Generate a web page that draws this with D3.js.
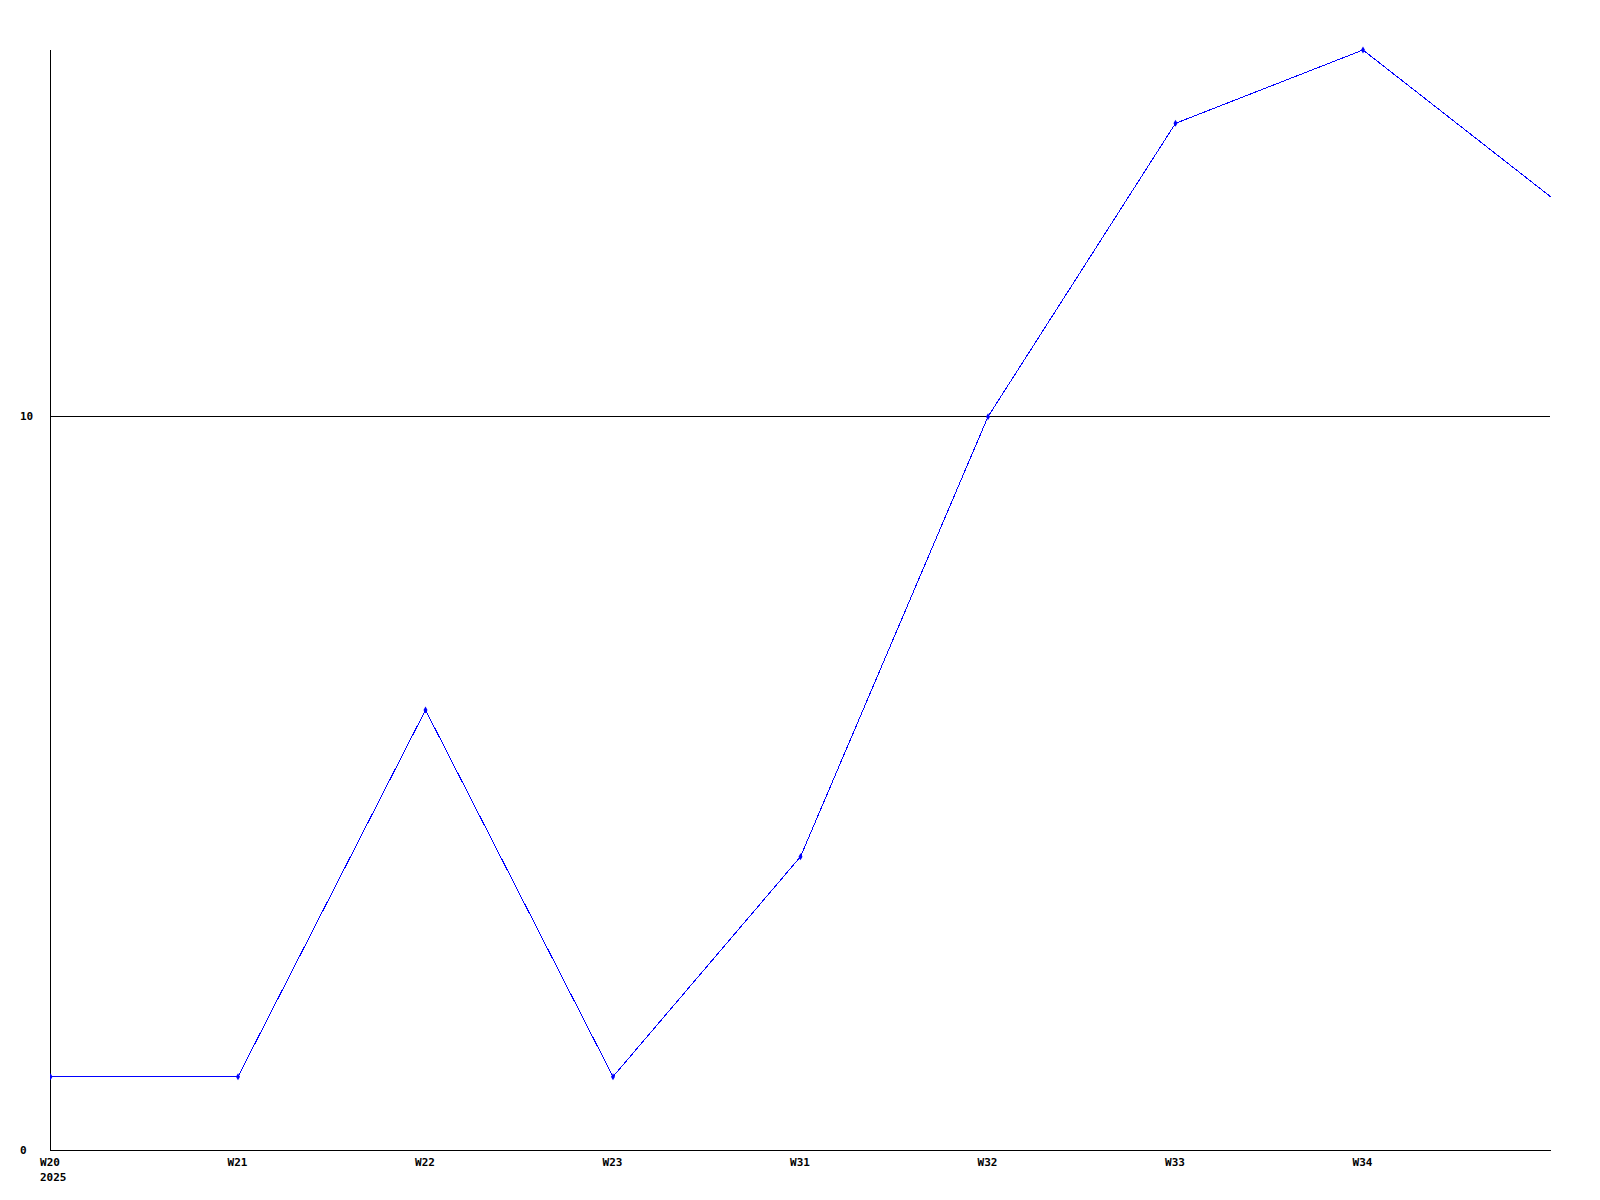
<!DOCTYPE html>
<html>
<head>
<meta charset="utf-8">
<script src="https://cdn.jsdelivr.net/npm/d3@7"></script>
<style>
  html, body { margin: 0; padding: 0; background: #fff; }
  svg { display: block; }
  text { font-family: "DejaVu Sans Mono", "Liberation Mono", monospace; font-weight: bold; font-size: 11px; fill: #000; }
</style>
</head>
<body>
<script>
// Data
const weeks = ["W20", "W21", "W22", "W23", "W31", "W32", "W33", "W34", "W35"];
const values = [1, 1, 6, 1, 4, 10, 14, 15, 13];
const xTickLabels = ["W20", "W21", "W22", "W23", "W31", "W32", "W33", "W34"];
const yearLabel = "2025";
const yTicks = [0, 10];

const W = 1600, H = 1200;
const mLeft = 50, mRight = 1550, mTop = 50, mBottom = 1150;

const svg = d3.select("body").append("svg").attr("width", W).attr("height", H);

const x = d3.scalePoint().domain(weeks).range([mLeft, mRight]);
const y = d3.scaleLinear().domain([0, 15]).range([mBottom, mTop]);

// gridline at 10
svg.selectAll("line.grid").data(yTicks.filter(d => d !== 0)).enter().append("line")
  .attr("x1", mLeft).attr("x2", mRight)
  .attr("y1", d => Math.floor(y(d)) + 0.5).attr("y2", d => Math.floor(y(d)) + 0.5)
  .attr("stroke", "#000").attr("stroke-width", 1).attr("shape-rendering", "crispEdges");

// axes lines
svg.append("line").attr("x1", mLeft + 0.5).attr("x2", mLeft + 0.5).attr("y1", mTop).attr("y2", mBottom + 1)
  .attr("stroke", "#000").attr("shape-rendering", "crispEdges");
svg.append("line").attr("x1", mLeft).attr("x2", mRight + 1).attr("y1", mBottom + 0.5).attr("y2", mBottom + 0.5)
  .attr("stroke", "#000").attr("shape-rendering", "crispEdges");

// y labels
svg.selectAll("text.ylab").data(yTicks).enter().append("text")
  .attr("x", 20).attr("y", d => Math.floor(y(d)) + 4)
  .text(d => d);

// x labels
svg.selectAll("text.xlab").data(xTickLabels).enter().append("text")
  .attr("x", d => x(d)).attr("y", mBottom + 16)
  .attr("text-anchor", "middle")
  .text(d => d);
svg.append("text").attr("x", x(weeks[0]) - 10).attr("y", mBottom + 31).text(yearLabel);

// line
svg.append("clipPath").attr("id", "plot").append("rect")
  .attr("x", mLeft).attr("y", mTop - 5).attr("width", mRight - mLeft + 1).attr("height", mBottom - mTop + 10);

const g = svg.append("g").attr("clip-path", "url(#plot)");
g.append("path")
  .datum(values)
  .attr("d", d3.line().x((d, i) => x(weeks[i]) + 0.5).y(d => y(d)))
  .attr("fill", "none").attr("stroke", "#0000ff").attr("stroke-width", 1)
  .attr("shape-rendering", "crispEdges");

g.selectAll("path.pt").data(values.slice(0, values.length - 1)).enter().append("path")
  .attr("transform", (d, i) => `translate(${x(weeks[i]) + 0.5},${y(d)})`)
  .attr("d", d3.symbol().type(d3.symbolDiamond).size(14))
  .attr("fill", "#0000ff");
</script>
</body>
</html>
